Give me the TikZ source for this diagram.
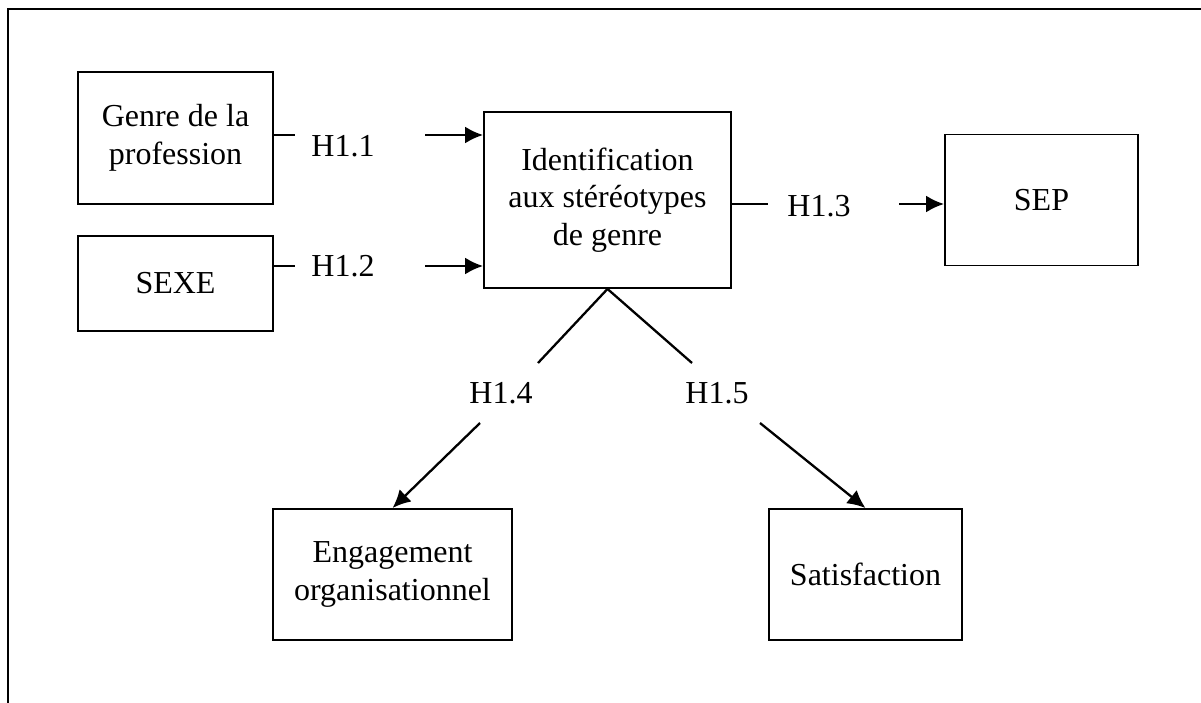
\documentclass[tikz,border=0pt]{standalone}
\usepackage{fontspec}
\setmainfont{Liberation Serif}
\usepackage{tikz}
\usetikzlibrary{arrows.meta}
\newcommand{\hypfont}{\fontsize{32}{37.5}\selectfont}
\tikzset{%
  >={Latex[width=17pt,length=18pt]},
  % Specifications for style of nodes:
          base/.style = {rectangle, draw=black, line width=1.9pt,
                         inner sep=0pt, text centered, align=center,
                         font=\hypfont},
           box/.style = {base, fill=white},
        hyplab/.style = {inner sep=0pt, font=\hypfont},
          link/.style = {line width=2.3pt}
}

\begin{document}
\begin{tikzpicture}[x=1pt, y=-1pt, node distance=145.5pt]
  \useasboundingbox (0,0) rectangle (1201,703);
  % frame
  \draw[line width=1.9pt] (1201,9) -- (8,9) -- (8,703);

  % Specification of nodes (position, etc.)
  \node (genre) [box, minimum width=195, minimum height=132] at (175.5,138)
        {Genre de la\\profession};
  \node (sexe)  [box, below of=genre, minimum width=195, minimum height=95]
        {SEXE};
  \node (ident) [box, right of=genre, xshift=286.5pt, yshift=-62pt,
                 minimum width=247, minimum height=176]
        {Identification\\aux stéréotypes\\de genre};
  \node (sep)   [box, right of=ident, xshift=288.5pt,
                 minimum width=193, minimum height=131] {SEP};
  \node (engag) [box, below of=ident, xshift=-215pt, yshift=-229pt,
                 minimum width=239, minimum height=131]
        {Engagement\\organisationnel};
  \node (satis) [box, below of=ident, xshift=258pt, yshift=-229pt,
                 minimum width=193, minimum height=131] {Satisfaction};

  % hypothesis labels
  \node (h11) [hyplab] at (343,146.5) {H1.1};
  \node (h12) [hyplab] at (343,266)   {H1.2};
  \node (h13) [hyplab] at (819,206)   {H1.3};
  \node (h14) [hyplab] at (501,393.5) {H1.4};
  \node (h15) [hyplab] at (717,393.5) {H1.5};

  % ends of the interrupted links
  \coordinate (h11a) at (295,135);  \coordinate (h11b) at (425,135);
  \coordinate (h12a) at (295,266);  \coordinate (h12b) at (425,266);
  \coordinate (h13a) at (768,204);  \coordinate (h13b) at (899,204);
  \coordinate (h14a) at (538,363);  \coordinate (h14b) at (480,423);
  \coordinate (h15a) at (692,363);  \coordinate (h15b) at (760,423);

  \draw[link] (genre.east |- h11a) -- (h11a);
  \draw[link, ->] (h11b) -- (ident.west |- h11b);
  \draw[link] (sexe.east |- h12a) -- (h12a);
  \draw[link, ->] (h12b) -- (ident.west |- h12b);
  \draw[link] (ident.east |- h13a) -- (h13a);
  \draw[link, ->] (h13b) -- (sep.west |- h13b);

  \draw[link] (ident.south) -- (h14a);
  \draw[link, ->] (h14b) -- (engag.north);
  \draw[link] (ident.south) -- (h15a);
  \draw[link, ->] (h15b) -- (satis.north);
\end{tikzpicture}
\end{document}
